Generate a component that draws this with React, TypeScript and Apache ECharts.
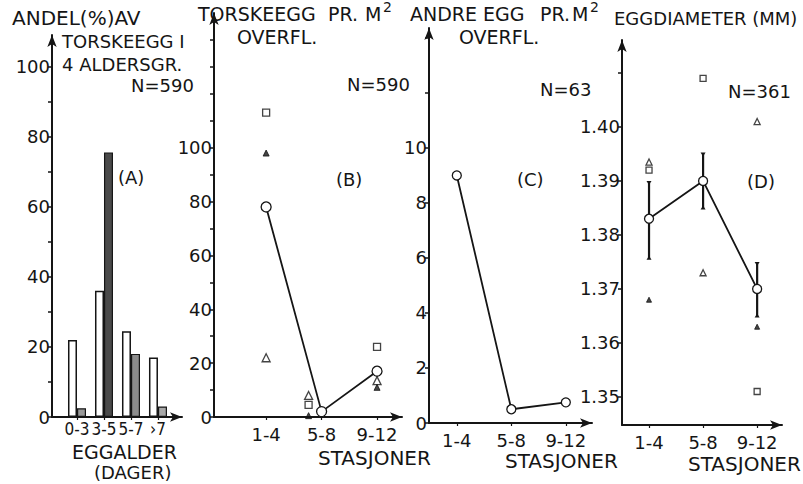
import React, { useEffect, useRef } from "react";
import * as echarts from "echarts";

// Panel A: share (%) of cod eggs in 4 age groups
const ageGroups = ["0-3", "3-5", "5-7", "›7"];
const sharePlain = [22, 36, 24.5, 17];
const shareStippled = [2.5, 75.5, 18, 3];
const stippleColors = ["#9a9a9a", "#4a4a4a", "#8c8c8c", "#a8a8a8"];

// Stations
const stations = ["1-4", "5-8", "9-12"];

// Panel B: cod eggs per m2 surface
const codMean = [78, 2, 17];
const codSquare = [113, 4.5, 26];
const codOpenTri = [22, 8, 13.5];
const codFilledTri = [98, 0.5, 11];

// Panel C: other eggs per m2 surface
const otherMean = [9, 0.5, 0.75];

// Panel D: egg diameter (mm)
const diamMean = [1.383, 1.39, 1.37];
const diamHigh = [1.3897, 1.395, 1.3747];
const diamLow = [1.3757, 1.385, 1.365];
const diamSquare = [1.392, 1.409, 1.351];
const diamOpenTri = [1.3935, 1.373, 1.401];
const diamFilledTri = [1.368, null, 1.363];

// Tick / label values
const ticksA = [0, 10, 20, 30, 40, 50, 60, 70, 80, 90, 100];
const labelsA = [0, 20, 40, 60, 80, 100];
const ticksB = [0, 10, 20, 30, 40, 50, 60, 70, 80, 90, 100, 110, 120, 130, 140];
const labelsB = [0, 20, 40, 60, 80, 100];
const ticksC = [0, 2, 4, 6, 8, 10, 12, 14];
const labelsC = [0, 2, 4, 6, 8, 10];
const ticksD = [1.35, 1.36, 1.37, 1.38, 1.39, 1.4, 1.41];
const labelsD = [1.35, 1.36, 1.37, 1.38, 1.39, 1.4];

const FONT = "'DejaVu Sans', sans-serif";
const FONT_NARROW = "'DejaVu Sans Condensed', 'Liberation Sans Narrow', sans-serif";
const INK = "#151515";

function yAxisCfg(gridIndex: number, min: number, max: number, ticks: number[], labels: number[], fmt: (v: number) => string) {
  return {
    type: "value",
    gridIndex,
    min,
    max,
    axisLine: { show: true, onZero: false, lineStyle: { color: INK, width: 2 }, symbol: ["none", "arrow"], symbolSize: [7, 12] },
    axisTick: { show: true, customValues: ticks, length: 4, inside: false, lineStyle: { color: INK, width: 1.5 } },
    axisLabel: { customValues: labels, formatter: fmt, fontSize: 18, fontFamily: FONT, color: INK, margin: 2, showMinLabel: true, showMaxLabel: true, hideOverlap: false },
    splitLine: { show: false },
  };
}

function xAxisCfg(gridIndex: number, min: number, max: number, names: string[], fontSize = 18, fontFamily = FONT, margin = 8) {
  const vals = names.map((_, i) => i + 1);
  return {
    type: "value",
    gridIndex,
    min,
    max,
    axisLine: { show: true, onZero: false, lineStyle: { color: INK, width: 2 }, symbol: ["none", "arrow"], symbolSize: [7, 12] },
    axisTick: { show: true, customValues: vals, length: 3, lineStyle: { color: INK, width: 1.2 } },
    axisLabel: {
      customValues: vals,
      formatter: (v: number) => names[Math.round(v) - 1] ?? "",
      fontSize,
      fontFamily,
      color: INK,
      margin,
      showMinLabel: true,
      showMaxLabel: true,
      hideOverlap: false,
    },
    splitLine: { show: false },
  };
}

const openStyle = { color: "#fff", borderColor: INK, borderWidth: 1.3 };
const filledStyle = { color: INK, borderColor: INK, borderWidth: 1 };

function pts(values: (number | null)[], offsets?: (number[] | null)[]) {
  return values.map((v, i) => {
    if (v === null) return null;
    const item: any = { value: [i + 1, v] };
    if (offsets && offsets[i]) item.symbolOffset = offsets[i];
    return item;
  }).filter((d) => d !== null);
}

const shiftB = [null, [-13, 0], null];

function txt(text: string, left: number, top: number, size = 18) {
  return {
    type: "text",
    left,
    top,
    style: { text, fill: INK, font: `${size}px ${FONT}` },
    silent: true,
  };
}

export default function App() {
  const ref = useRef<HTMLDivElement>(null);

  useEffect(() => {
    if (!ref.current) return;
    const chart = echarts.init(ref.current, null, { renderer: "svg" });

    const option: any = {
      animation: false,
      backgroundColor: "#fff",
      grid: [
        { left: 52, top: 35, width: 130, height: 382 },
        { left: 214, top: 13, width: 188, height: 404 },
        { left: 429, top: 28, width: 163, height: 395 },
        { left: 622, top: 40, width: 160, height: 385 },
      ],
      xAxis: [
        xAxisCfg(0, 0.074, 4.89, ageGroups, 17, FONT_NARROW, 3),
        xAxisCfg(1, 0.06, 3.45, stations),
        xAxisCfg(2, 0.49, 3.48, stations),
        xAxisCfg(3, 0.5, 3.46, stations),
      ],
      yAxis: [
        yAxisCfg(0, 0, 109, ticksA, labelsA, (v) => String(v)),
        yAxisCfg(1, 0, 150, ticksB, labelsB, (v) => String(v)),
        yAxisCfg(2, 0, 14.36, ticksC, labelsC, (v) => String(v)),
        yAxisCfg(3, 1.3448, 1.4161, ticksD, labelsD, (v) => v.toFixed(2)),
      ],
      series: [
        // Panel A
        {
          type: "bar",
          xAxisIndex: 0,
          yAxisIndex: 0,
          barWidth: 9,
          barGap: "0%",
          data: sharePlain.map((v, i) => [i + 1, v]),
          itemStyle: { color: "#fff", borderColor: INK, borderWidth: 1.5 },
        },
        {
          type: "bar",
          xAxisIndex: 0,
          yAxisIndex: 0,
          barWidth: 9,
          barGap: "0%",
          data: shareStippled.map((v, i) => ({ value: [i + 1, v], itemStyle: { color: stippleColors[i] } })),
          itemStyle: { borderColor: INK, borderWidth: 1.2 },
        },
        // Panel B
        {
          type: "scatter", xAxisIndex: 1, yAxisIndex: 1, symbol: "rect", symbolSize: 7,
          itemStyle: openStyle, data: pts(codSquare, shiftB),
        },
        {
          type: "scatter", xAxisIndex: 1, yAxisIndex: 1, symbol: "triangle", symbolSize: 8,
          itemStyle: openStyle, data: pts(codOpenTri, shiftB),
        },
        {
          type: "scatter", xAxisIndex: 1, yAxisIndex: 1, symbol: "triangle", symbolSize: 6,
          itemStyle: filledStyle, data: pts(codFilledTri, shiftB),
        },
        {
          type: "line", xAxisIndex: 1, yAxisIndex: 1, symbol: "circle", symbolSize: 10,
          lineStyle: { color: INK, width: 1.8 }, itemStyle: openStyle, z: 5,
          data: pts(codMean),
        },
        // Panel C
        {
          type: "line", xAxisIndex: 2, yAxisIndex: 2, symbol: "circle", symbolSize: 9,
          lineStyle: { color: INK, width: 1.8 }, itemStyle: openStyle, z: 5,
          data: pts(otherMean),
        },
        // Panel D
        {
          type: "custom",
          xAxisIndex: 3,
          yAxisIndex: 3,
          z: 3,
          data: stations.map((_, i) => [i + 1, diamLow[i], diamHigh[i]]),
          renderItem: (_params: any, api: any) => {
            const x = api.value(0);
            const lo = api.coord([x, api.value(1)]);
            const hi = api.coord([x, api.value(2)]);
            return {
              type: "group",
              children: [
                { type: "line", shape: { x1: lo[0], y1: lo[1], x2: hi[0], y2: hi[1] }, style: { stroke: INK, lineWidth: 2.2 } },
                { type: "polygon", shape: { points: [[hi[0] - 2.5, hi[1] - 1.5], [hi[0] + 2.5, hi[1] - 1.5], [hi[0], hi[1] + 2.5]] }, style: { fill: INK } },
                { type: "polygon", shape: { points: [[lo[0] - 2.5, lo[1] + 1.5], [lo[0] + 2.5, lo[1] + 1.5], [lo[0], lo[1] - 2.5]] }, style: { fill: INK } },
              ],
            };
          },
        },
        {
          type: "scatter", xAxisIndex: 3, yAxisIndex: 3, symbol: "rect", symbolSize: 6,
          itemStyle: openStyle, data: pts(diamSquare),
        },
        {
          type: "scatter", xAxisIndex: 3, yAxisIndex: 3, symbol: "triangle", symbolSize: 6,
          itemStyle: openStyle, data: pts(diamOpenTri),
        },
        {
          type: "scatter", xAxisIndex: 3, yAxisIndex: 3, symbol: "triangle", symbolSize: 5,
          itemStyle: filledStyle, data: pts(diamFilledTri),
        },
        {
          type: "line", xAxisIndex: 3, yAxisIndex: 3, symbol: "circle", symbolSize: 9,
          lineStyle: { color: INK, width: 1.8 }, itemStyle: openStyle, z: 5,
          data: pts(diamMean),
        },
      ],
      graphic: [
        // Panel A texts
        txt("ANDEL(%)AV", 12, 8, 20),
        txt("TORSKEEGG I", 62, 32),
        txt("4 ALDERSGR.", 62, 55),
        txt("N=590", 131, 76),
        txt("(A)", 118, 168),
        txt("EGGALDER", 72, 442, 19),
        txt("(DAGER)", 94, 463, 18),
        // Panel B texts
        txt("TORSKEEGG", 198, 4, 19),
        txt("PR.", 328, 4, 19),
        txt("M", 365, 4, 19),
        txt("2", 383, 0, 14),
        txt("OVERFL.", 237, 27, 19),
        txt("N=590", 347, 75),
        txt("(B)", 336, 170),
        txt("STASJONER", 318, 448, 20),
        // Panel C texts
        txt("ANDRE EGG", 410, 4, 19),
        txt("PR.", 540, 4, 19),
        txt("M", 572, 4, 19),
        txt("2", 590, 0, 14),
        txt("OVERFL.", 459, 27, 19),
        txt("N=63", 540, 80),
        txt("(C)", 517, 170),
        txt("STASJONER", 505, 451, 20),
        // Panel D texts
        txt("EGGDIAMETER (MM)", 614, 9),
        txt("N=361", 728, 82),
        txt("(D)", 747, 172),
        txt("STASJONER", 688, 454, 20),
      ],
    };

    chart.setOption(option);
    return () => chart.dispose();
  }, []);

  return (
    <div
      ref={ref}
      style={{ position: "fixed", left: 0, top: 0, width: 803, height: 484, background: "#fff" }}
    />
  );
}
